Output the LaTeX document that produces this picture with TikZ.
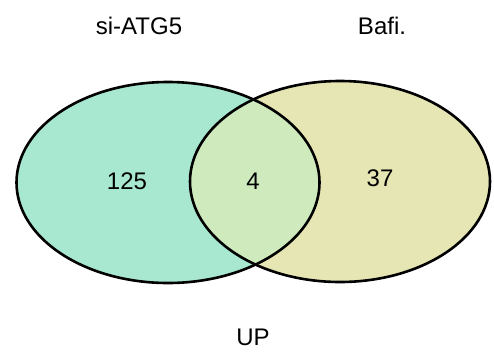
\documentclass[tikz,border=0pt]{standalone}
\usepackage{fontspec}
\setmainfont{Liberation Sans}
\definecolor{leftfill}{RGB}{168,232,208}
\definecolor{rightfill}{RGB}{230,230,180}
\definecolor{midfill}{RGB}{207,235,190}
\begin{document}
\begin{tikzpicture}[x=1pt,y=-1pt,
  lbl/.style={font=\fontsize{24}{28}\selectfont, inner sep=0pt},
  outline/.style={draw=black, line width=2.6pt}]
\useasboundingbox (0,0) rectangle (494,351);
\fill[leftfill] (168,182.5) ellipse [x radius=151.5, y radius=100.5];
\fill[rightfill] (340,181.5) ellipse [x radius=150, y radius=100.5];
\begin{scope}
  \clip (168,182.5) ellipse [x radius=151.5, y radius=100.5];
  \fill[midfill] (340,181.5) ellipse [x radius=150, y radius=100.5];
\end{scope}
\draw[outline] (168,182.5) ellipse [x radius=151.5, y radius=100.5];
\draw[outline] (340,181.5) ellipse [x radius=150, y radius=100.5];
\node[lbl] (tA) at (139,26) {si-ATG5};
\node[lbl] (tB) at (382,26) {Bafi.};
\node[lbl] (tUP) at (253,337) {UP};
\node[lbl] (n125) at (127,181) {125};
\node[lbl] (n4) at (253,181) {4};
\node[lbl] (n37) at (380,178) {37};
\end{tikzpicture}
\end{document}
